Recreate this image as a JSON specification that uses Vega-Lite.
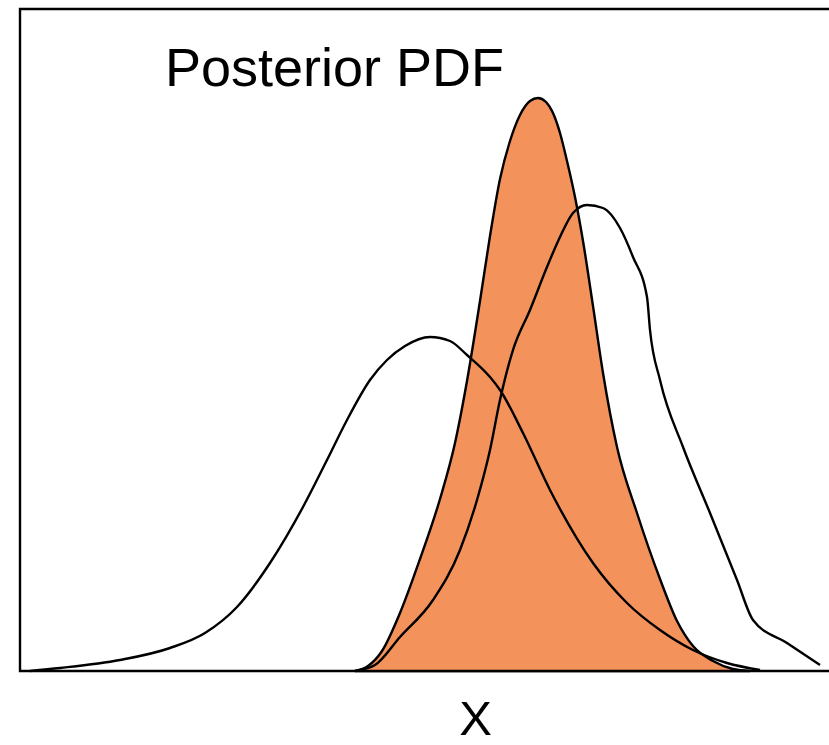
{
  "$schema": "https://vega.github.io/schema/vega-lite/v6.json",
  "width": 812,
  "height": 662,
  "autosize": "none",
  "padding": {"left": 20, "top": 9, "right": 0, "bottom": 74},
  "background": "white",
  "config": {"view": {"stroke": "black", "strokeWidth": 2.4}},
  "title": {
    "text": "Posterior PDF",
    "anchor": "start",
    "frame": "group",
    "dx": 145,
    "offset": -131,
    "font": "Liberation Sans",
    "fontSize": 54,
    "fontWeight": "normal",
    "color": "black",
    "baseline": "alphabetic"
  },
  "datasets": {
    "posterior": [
      {"x": 355, "y": 0}, {"x": 368, "y": 5}, {"x": 382, "y": 20}, {"x": 400, "y": 58},
      {"x": 420, "y": 112}, {"x": 440, "y": 172}, {"x": 455, "y": 228}, {"x": 467, "y": 290},
      {"x": 480, "y": 370}, {"x": 490, "y": 435}, {"x": 500, "y": 492}, {"x": 510, "y": 530},
      {"x": 520, "y": 556}, {"x": 530, "y": 570}, {"x": 538, "y": 573}, {"x": 546, "y": 569},
      {"x": 553, "y": 558}, {"x": 560, "y": 538}, {"x": 567, "y": 510}, {"x": 575, "y": 474},
      {"x": 583, "y": 430}, {"x": 593, "y": 365}, {"x": 603, "y": 298}, {"x": 617, "y": 224},
      {"x": 637, "y": 158}, {"x": 660, "y": 92}, {"x": 677, "y": 50}, {"x": 693, "y": 25},
      {"x": 713, "y": 10}, {"x": 733, "y": 2}, {"x": 750, "y": 0}
    ],
    "prior": [
      {"x": 30, "y": 0}, {"x": 60, "y": 3}, {"x": 120, "y": 11}, {"x": 170, "y": 23},
      {"x": 205, "y": 38}, {"x": 237, "y": 64}, {"x": 270, "y": 108}, {"x": 303, "y": 164},
      {"x": 327, "y": 211}, {"x": 347, "y": 251}, {"x": 370, "y": 291}, {"x": 387, "y": 311},
      {"x": 405, "y": 325}, {"x": 430, "y": 334}, {"x": 450, "y": 330}, {"x": 467, "y": 316},
      {"x": 490, "y": 294}, {"x": 500, "y": 281}, {"x": 523, "y": 238}, {"x": 550, "y": 181},
      {"x": 593, "y": 108}, {"x": 627, "y": 68}, {"x": 660, "y": 41}, {"x": 693, "y": 21},
      {"x": 727, "y": 8}, {"x": 760, "y": 1}
    ],
    "likelihood": [
      {"x": 355, "y": 0}, {"x": 375, "y": 6}, {"x": 400, "y": 34}, {"x": 433, "y": 71},
      {"x": 460, "y": 121}, {"x": 477, "y": 171}, {"x": 490, "y": 221}, {"x": 500, "y": 271},
      {"x": 513, "y": 321}, {"x": 530, "y": 361}, {"x": 547, "y": 404}, {"x": 560, "y": 434},
      {"x": 573, "y": 458}, {"x": 587, "y": 466}, {"x": 603, "y": 463}, {"x": 620, "y": 443},
      {"x": 633, "y": 414}, {"x": 647, "y": 374}, {"x": 650, "y": 341}, {"x": 660, "y": 291},
      {"x": 683, "y": 224}, {"x": 710, "y": 158}, {"x": 737, "y": 91}, {"x": 753, "y": 51},
      {"x": 787, "y": 28}, {"x": 820, "y": 6}
    ]
  },
  "layer": [
    {
      "data": {"name": "posterior"},
      "mark": {"type": "area", "interpolate": "monotone", "fill": "#F4925C", "stroke": "black", "strokeWidth": 2.4},
      "encoding": {
        "x": {
          "field": "x", "type": "quantitative",
          "scale": {"domain": [20, 832], "nice": false, "zero": false},
          "axis": {
            "title": "X", "domain": false, "ticks": false, "labels": false, "grid": false,
            "titleFont": "Liberation Sans", "titleFontSize": 49, "titleFontWeight": "normal",
            "titleColor": "black", "titleX": 455, "titleY": 73, "titleBaseline": "bottom",
            "titleAlign": "center"
          }
        },
        "y": {"field": "y", "type": "quantitative", "scale": {"domain": [0, 662], "nice": false}, "axis": null}
      }
    },
    {
      "data": {"name": "prior"},
      "mark": {"type": "line", "interpolate": "monotone", "color": "black", "strokeWidth": 2.4},
      "encoding": {
        "x": {"field": "x", "type": "quantitative"},
        "y": {"field": "y", "type": "quantitative"}
      }
    },
    {
      "data": {"name": "likelihood"},
      "mark": {"type": "line", "interpolate": "monotone", "color": "black", "strokeWidth": 2.4},
      "encoding": {
        "x": {"field": "x", "type": "quantitative"},
        "y": {"field": "y", "type": "quantitative"}
      }
    }
  ]
}
